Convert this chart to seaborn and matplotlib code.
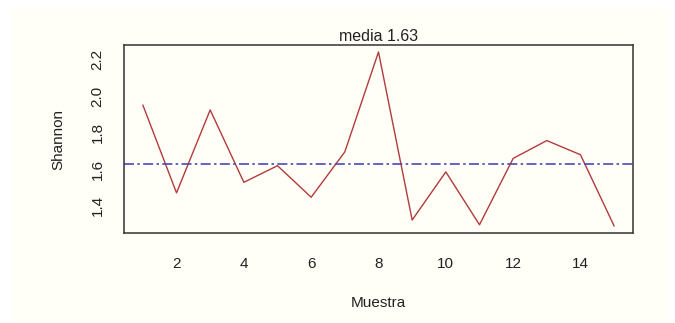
import matplotlib
matplotlib.use('Agg')
import matplotlib.pyplot as plt
from matplotlib.patches import Rectangle
import seaborn as sns
import pandas as pd
import numpy as np

# valores
muestra = [1, 2, 3, 4, 5, 6, 7, 8, 9, 10, 11, 12, 13, 14, 15]
shannon = [1.951, 1.469, 1.924, 1.527, 1.618, 1.445, 1.694, 2.242,
           1.320, 1.584, 1.294, 1.658, 1.756, 1.678, 1.287]
xticks = [2, 4, 6, 8, 10, 12, 14]
yticks = [1.4, 1.6, 1.8, 2.0, 2.2]

df = pd.DataFrame({'Muestra': muestra, 'Shannon': shannon})
media = np.mean(shannon)

sns.set_style('white')
plt.rcParams['font.family'] = ['Liberation Sans', 'DejaVu Sans']

crema = '#fffef7'
fig = plt.figure(figsize=(6.75, 3.23), dpi=100, facecolor='white')
# fondo crema de la imagen original
fig.patches.append(Rectangle((13 / 675, 0), (668 - 13) / 675, 1 - 7 / 323,
                             transform=fig.transFigure, facecolor=crema,
                             edgecolor='none', zorder=-10))
ax = fig.add_axes([124 / 675, 1 - 233 / 323, (633 - 124) / 675, (233 - 45) / 323])
ax.set_facecolor(crema)

sns.lineplot(data=df, x='Muestra', y='Shannon', ax=ax, color='#b23b3b', linewidth=1.0)
ax.axhline(media, color='#4a4ab8', linewidth=1.2, linestyle='-.', dashes=(6, 2, 1.5, 2))

# limites estilo R (4% de margen)
r = max(shannon) - min(shannon)
ax.set_ylim(min(shannon) - 0.04 * r, max(shannon) + 0.04 * r)
ax.set_xlim(1 - 0.04 * 14, 15 + 0.04 * 14)

ax.set_xticks(xticks)
ax.set_xticklabels([str(t) for t in xticks])
ax.set_yticks(yticks)
ax.set_yticklabels([f'{t:.1f}' for t in yticks], rotation=90, va='center')
ax.tick_params(axis='both', direction='out', length=6, width=1, color='#333333',
               labelsize=11, labelcolor='#222222')
ax.tick_params(axis='x', pad=11)
ax.tick_params(axis='y', pad=8)

for s in ax.spines.values():
    s.set_color('#333333')
    s.set_linewidth(1.1)

ax.set_title(f'media {media:.2f}', fontsize=11.5, color='#222222', pad=3)
ax.set_xlabel('Muestra', fontsize=11, color='#222222', va='center')
ax.set_ylabel('Shannon', fontsize=11, color='#222222', va='center')
ax.xaxis.set_label_coords(0.5, -(303 - 233) / 188)
ax.yaxis.set_label_coords(-(124 - 58) / 509, 0.5)

fig.savefig('out.png', dpi=100, facecolor=fig.get_facecolor())
